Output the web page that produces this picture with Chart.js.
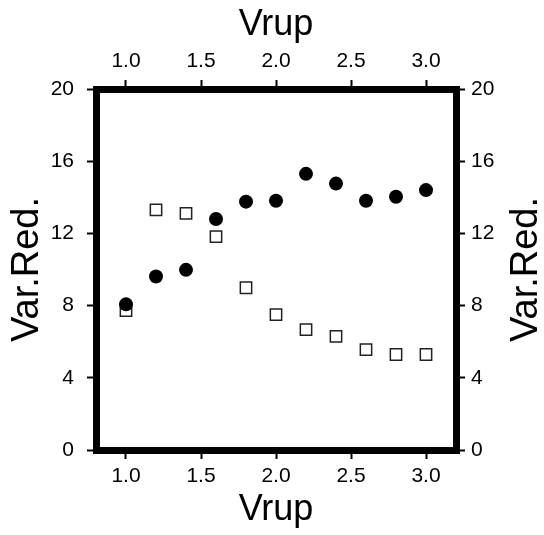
<!DOCTYPE html>
<html>
<head>
<meta charset="utf-8">
<style>
  html, body { margin: 0; padding: 0; background: #fff; }
  canvas { display: block; }
</style>
<script src="https://cdn.jsdelivr.net/npm/chart.js@4/dist/chart.umd.min.js"></script>
</head>
<body>
<canvas id="c" width="544" height="535"></canvas>
<script>
// ---- data ----
const vrup = [1.0, 1.2, 1.4, 1.6, 1.8, 2.0, 2.2, 2.4, 2.6, 2.8, 3.0];
const varRedFilled = [8.07, 9.61, 9.98, 12.8, 13.76, 13.81, 15.3, 14.76, 13.81, 14.03, 14.4];
const varRedOpen = [7.73, 13.3, 13.11, 11.82, 8.99, 7.5, 6.67, 6.3, 5.56, 5.29, 5.29];
const xTicks = [1.0, 1.5, 2.0, 2.5, 3.0];
const yTicks = [0, 4, 8, 12, 16, 20];
const xTitle = 'Vrup';
const yTitle = 'Var.Red.';

Chart.defaults.font.family = "'Liberation Sans', Arial, Helvetica, sans-serif";
Chart.defaults.color = '#000';

const FRAME = 7;

function xAxis(pos, size, titlePad, tickPad) {
  return {
    type: 'linear', position: pos, min: 0.8, max: 3.2,
    afterBuildTicks: s => { s.ticks = xTicks.map(v => ({ value: v })); },
    afterFit: s => { s.height = size; },
    grid: { display: true, drawOnChartArea: false, drawTicks: true, tickLength: 9, tickWidth: 2, tickColor: '#000', lineWidth: FRAME, color: '#000' },
    border: { display: true, width: FRAME, color: '#000' },
    ticks: { font: { size: 21 }, padding: tickPad, color: '#000', maxRotation: 0, callback: v => Number(v).toFixed(1) },
    title: { display: true, text: xTitle, color: '#000', font: { size: 36, lineHeight: 1 }, padding: titlePad }
  };
}
function yAxis(pos, size, titleOn, tickPad) {
  return {
    type: 'linear', position: pos, min: 0, max: 20,
    afterBuildTicks: s => { s.ticks = yTicks.map(v => ({ value: v })); },
    afterFit: s => { s.width = size; },
    grid: { display: true, drawOnChartArea: false, drawTicks: true, tickLength: 9, tickWidth: 2, tickColor: '#000', lineWidth: FRAME, color: '#000' },
    border: { display: true, width: FRAME, color: '#000' },
    ticks: { font: { size: 21 }, padding: tickPad, color: '#000', callback: v => String(v) },
    title: { display: titleOn, text: yTitle, color: '#000', font: { size: 38, lineHeight: 1 }, padding: { top: 8.5, bottom: 0 } }
  };
}

const rightTitle = {
  id: 'rightTitle',
  afterDraw(chart) {
    const { ctx, chartArea } = chart;
    ctx.save();
    ctx.translate(527, (chartArea.top + chartArea.bottom) / 2);
    ctx.rotate(-Math.PI / 2);
    ctx.font = "38px 'Liberation Sans', Arial, sans-serif";
    ctx.fillStyle = '#000';
    ctx.textAlign = 'center';
    ctx.textBaseline = 'middle';
    ctx.fillText(yTitle, 0, 0);
    ctx.restore();
  }
};

new Chart(document.getElementById('c'), {
  type: 'scatter',
  data: {
    datasets: [
      {
        label: 'filled',
        data: vrup.map((x, i) => ({ x, y: varRedFilled[i] })),
        pointStyle: 'circle', pointRadius: 7, pointHoverRadius: 7,
        backgroundColor: '#000', borderColor: '#000', borderWidth: 0
      },
      {
        label: 'open',
        data: vrup.map((x, i) => ({ x, y: varRedOpen[i] })),
        pointStyle: 'rect', pointRadius: 8, pointHoverRadius: 8,
        backgroundColor: '#fff', borderColor: '#222', borderWidth: 1.5
      }
    ]
  },
  options: {
    responsive: false,
    animation: false,
    devicePixelRatio: 1,
    layout: { padding: 0 },
    plugins: { legend: { display: false }, tooltip: { enabled: false } },
    scales: {
      x: xAxis('bottom', 85, { top: 0, bottom: 6.5 }, 4.4),
      x2: xAxis('top', 89, { top: 7.5, bottom: 0 }, 6.4),
      y: yAxis('left', 96, true, 13),
      y2: yAxis('right', 88, false, 6)
    }
  },
  plugins: [rightTitle]
});
</script>
</body>
</html>
